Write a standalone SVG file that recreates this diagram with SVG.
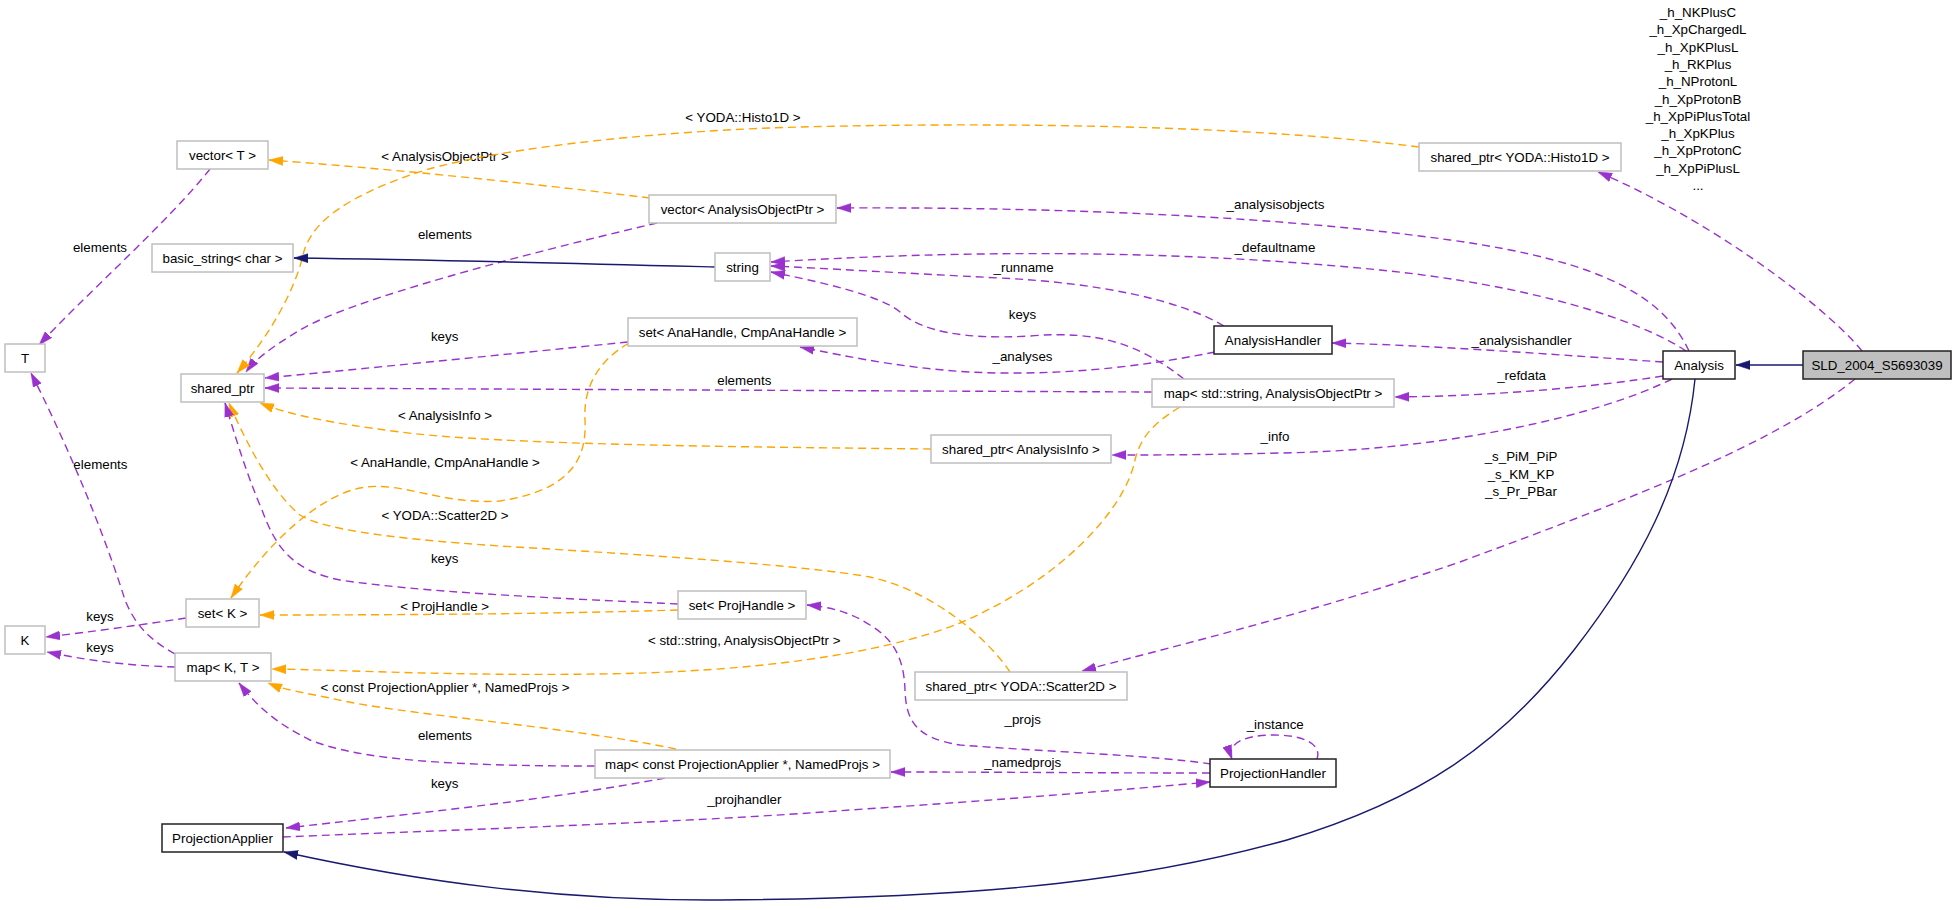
<svg xmlns="http://www.w3.org/2000/svg" width="1957" height="910" viewBox="0 0 1957 910">
<style>
text{font-family:"Liberation Sans",Arial,Helvetica,sans-serif;font-size:13.33px;fill:#000;text-anchor:middle}
.n rect{fill:#fff;stroke:#bfbfbf;stroke-width:1.5}
.n.b rect{stroke:#222}
.n.g rect{fill:#bfbfbf;stroke:#222}
.e{fill:none;stroke-width:1.4}
.p{stroke:#9a32cd;stroke-dasharray:8,5;marker-end:url(#mp)}
.o{stroke:#ffa500;stroke-dasharray:8,5;marker-end:url(#mo)}
.i{stroke:#191970;marker-end:url(#mi)}
</style>
<defs>
<marker id="mp" viewBox="0 0 14 10" refX="14" refY="5" markerWidth="14" markerHeight="10" markerUnits="userSpaceOnUse" orient="auto"><path d="M0,0.5 L14,5 L0,9.5 z" fill="#9a32cd" stroke="#9a32cd" stroke-width="0.5"/></marker>
<marker id="mo" viewBox="0 0 14 10" refX="14" refY="5" markerWidth="14" markerHeight="10" markerUnits="userSpaceOnUse" orient="auto"><path d="M0,0.5 L14,5 L0,9.5 z" fill="#ffa500" stroke="#ffa500" stroke-width="0.5"/></marker>
<marker id="mi" viewBox="0 0 14 10" refX="14" refY="5" markerWidth="14" markerHeight="10" markerUnits="userSpaceOnUse" orient="auto"><path d="M0,0.5 L14,5 L0,9.5 z" fill="#191970" stroke="#191970" stroke-width="0.5"/></marker>
</defs>
<rect width="1957" height="910" fill="#fff"/>
<g id="connectors">
<path class="e i" d="M1803,365 L1736,365"/>
<path class="e p" d="M1862,351 C1820,300 1700,215 1598,172"/>
<text x="1698" y="17">_h_NKPlusC</text>
<text x="1698" y="34.3">_h_XpChargedL</text>
<text x="1698" y="51.6">_h_XpKPlusL</text>
<text x="1698" y="68.9">_h_RKPlus</text>
<text x="1698" y="86.2">_h_NProtonL</text>
<text x="1698" y="103.5">_h_XpProtonB</text>
<text x="1698" y="120.8">_h_XpPiPlusTotal</text>
<text x="1698" y="138.1">_h_XpKPlus</text>
<text x="1698" y="155.4">_h_XpProtonC</text>
<text x="1698" y="172.7">_h_XpPiPlusL</text>
<text x="1698" y="190">...</text>
<path class="e p" d="M1855,379 C1780,440 1650,492 1460,562 C1300,617 1150,652 1082,671"/>
<text x="1521" y="461">_s_PiM_PiP</text>
<text x="1521" y="478.5">_s_KM_KP</text>
<text x="1521" y="496">_s_Pr_PBar</text>
<path class="e i" d="M1695,379 C1685,480 1640,565 1574,650 C1500,745 1420,800 1287,840 C1150,878 1000,898 720,900 C560,901 420,882 284,852"/>
<path class="e p" d="M1663,362 C1560,355 1430,345 1332,343"/>
<text x="1521.6" y="344.5">_analysishandler</text>
<path class="e p" d="M1663,376 C1600,386 1500,396 1395,397"/>
<text x="1521.6" y="379.5">_refdata</text>
<path class="e p" d="M1672,379 C1600,415 1450,450 1280,453 C1200,455 1150,455 1112,455"/>
<text x="1275" y="441">_info</text>
<path class="e p" d="M1686,351 C1640,320 1530,285 1380,270 C1200,252 1000,248 771,262"/>
<text x="1275" y="252">_defaultname</text>
<path class="e p" d="M1689,351 C1665,300 1610,262 1450,240 C1250,212 1000,207 837,208"/>
<text x="1275.5" y="209">_analysisobjects</text>
<path class="e p" d="M1224,326 C1180,300 1100,283 1000,278 C900,273 820,268 771,266"/>
<text x="1023.6" y="272">_runname</text>
<path class="e p" d="M1215,352 C1150,365 1080,374 1000,373 C920,372 850,357 800,347"/>
<text x="1022.5" y="361">_analyses</text>
<path class="e p" d="M1184,379 C1140,345 1100,330 1030,336 C960,340 920,330 900,312 C880,295 820,282 771,272"/>
<text x="1022.5" y="319">keys</text>
<path class="e p" d="M1152,392 C900,391 500,389 265,388"/>
<text x="744.3" y="385">elements</text>
<path class="e o" d="M1180,407 C1150,425 1140,440 1135,460 C1125,510 1060,580 960,623 C880,655 750,672 600,674 C450,676 350,670 272,669"/>
<text x="744.2" y="644.5">&lt; std::string, AnalysisObjectPtr &gt;</text>
<path class="e o" d="M931,449 C750,447 500,445 400,432 C330,423 290,415 260,403"/>
<text x="445" y="419.5">&lt; AnalysisInfo &gt;</text>
<path class="e o" d="M650,198 C520,182 380,168 269,160"/>
<text x="445" y="160.5">&lt; AnalysisObjectPtr &gt;</text>
<path class="e p" d="M657,223 C520,255 350,300 300,330 C270,348 255,360 246,372"/>
<text x="445" y="238.5">elements</text>
<path class="e o" d="M1419,147 C1250,125 1000,122 800,127 C650,131 480,150 410,175 C340,200 310,225 303,255 C295,290 270,335 237,373"/>
<text x="743" y="122">&lt; YODA::Histo1D &gt;</text>
<path class="e i" d="M715,267 C600,264 450,260 294,258"/>
<path class="e p" d="M628,342 C500,355 350,370 265,378"/>
<text x="444.6" y="341">keys</text>
<path class="e o" d="M629,343 C600,360 583,385 585,420 C587,460 570,490 500,501 C440,505 400,480 360,488 C320,496 270,540 231,598"/>
<text x="445" y="467">&lt; AnaHandle, CmpAnaHandle &gt;</text>
<path class="e o" d="M1010,672 C985,635 930,590 870,577 C800,565 650,555 500,546 C380,538 320,528 300,515 C270,490 245,440 229,403"/>
<text x="445" y="520">&lt; YODA::Scatter2D &gt;</text>
<path class="e p" d="M678,604 C550,598 420,592 340,580 C290,570 275,545 262,510 C245,470 235,435 225,403"/>
<text x="444.6" y="563">keys</text>
<path class="e o" d="M678,610 C550,614 400,615 260,615"/>
<text x="444.6" y="611">&lt; ProjHandle &gt;</text>
<path class="e p" d="M210,169 C170,220 80,300 39,345"/>
<text x="100" y="252">elements</text>
<path class="e p" d="M175,654 C150,640 135,625 125,600 C100,520 60,430 31,373"/>
<text x="100.4" y="469">elements</text>
<path class="e p" d="M186,618 C140,625 90,632 46,637"/>
<text x="100" y="621">keys</text>
<path class="e p" d="M175,667 C140,666 100,663 47,652"/>
<text x="100" y="652">keys</text>
<path class="e o" d="M676,749 C560,725 400,715 330,698 C300,692 285,690 268,683"/>
<text x="445" y="692">&lt; const ProjectionApplier *, NamedProjs &gt;</text>
<path class="e p" d="M595,766 C450,766 360,760 310,740 C280,725 260,710 239,683"/>
<text x="445" y="740">elements</text>
<path class="e p" d="M665,778 C550,800 400,815 286,828"/>
<text x="444.6" y="788">keys</text>
<path class="e p" d="M283,837 C450,830 700,822 850,810 C1000,800 1120,790 1210,782"/>
<text x="744.4" y="803.5">_projhandler</text>
<path class="e p" d="M1210,773 C1100,773 1000,772 891,772"/>
<text x="1022.7" y="767">_namedprojs</text>
<path class="e p" d="M1211,764 C1150,755 1050,752 960,745 C915,738 906,720 905,690 C904,660 895,640 870,625 C850,612 830,607 807,605"/>
<text x="1022.7" y="724">_projs</text>
<path class="e p" d="M1317,759 C1322,745 1305,735 1274,735 C1245,735 1226,743 1232,759"/>
<text x="1275.2" y="729">_instance</text>
</g>
<g id="node_sld" class="n g"><rect x="1803" y="351" width="148" height="28"/><text x="1877" y="369.5">SLD_2004_S5693039</text></g>
<g id="node_analysis" class="n b"><rect x="1663" y="351" width="72" height="28"/><text x="1699" y="369.5">Analysis</text></g>
<g id="node_histo1d" class="n"><rect x="1419" y="143" width="202" height="28"/><text x="1520" y="161.5">shared_ptr&lt; YODA::Histo1D &gt;</text></g>
<g id="node_vector_aop" class="n"><rect x="649" y="195" width="187" height="28"/><text x="742.5" y="213.5">vector&lt; AnalysisObjectPtr &gt;</text></g>
<g id="node_string" class="n"><rect x="715" y="253" width="55" height="28"/><text x="742.5" y="271.5">string</text></g>
<g id="node_set_anahandle" class="n"><rect x="628" y="318" width="229" height="28"/><text x="742.5" y="336.5">set&lt; AnaHandle, CmpAnaHandle &gt;</text></g>
<g id="node_set_projhandle" class="n"><rect x="678" y="591" width="128" height="28"/><text x="742" y="609.5">set&lt; ProjHandle &gt;</text></g>
<g id="node_map_pa" class="n"><rect x="595" y="750" width="295" height="28"/><text x="742.5" y="768.5">map&lt; const ProjectionApplier *, NamedProjs &gt;</text></g>
<g id="node_analysishandler" class="n b"><rect x="1214" y="326" width="118" height="28"/><text x="1273" y="344.5">AnalysisHandler</text></g>
<g id="node_map_string" class="n"><rect x="1152" y="379" width="242" height="28"/><text x="1273" y="397.5">map&lt; std::string, AnalysisObjectPtr &gt;</text></g>
<g id="node_projectionhandler" class="n b"><rect x="1210" y="759" width="126" height="28"/><text x="1273" y="777.5">ProjectionHandler</text></g>
<g id="node_sp_info" class="n"><rect x="931" y="435" width="180" height="28"/><text x="1021" y="453.5">shared_ptr&lt; AnalysisInfo &gt;</text></g>
<g id="node_sp_scatter" class="n"><rect x="915" y="672" width="212" height="28"/><text x="1021" y="690.5">shared_ptr&lt; YODA::Scatter2D &gt;</text></g>
<g id="node_vector_t" class="n"><rect x="177" y="141" width="91" height="28"/><text x="222.5" y="159.5">vector&lt; T &gt;</text></g>
<g id="node_basic_string" class="n"><rect x="152" y="244" width="141" height="28"/><text x="222.5" y="262.5">basic_string&lt; char &gt;</text></g>
<g id="node_shared_ptr" class="n"><rect x="181" y="374" width="83" height="28"/><text x="222.5" y="392.5">shared_ptr</text></g>
<g id="node_set_k" class="n"><rect x="186" y="599" width="73" height="28"/><text x="222.5" y="617.5">set&lt; K &gt;</text></g>
<g id="node_map_kt" class="n"><rect x="175" y="653" width="96" height="28"/><text x="223" y="671.5">map&lt; K, T &gt;</text></g>
<g id="node_projectionapplier" class="n b"><rect x="162" y="824" width="121" height="28"/><text x="222.5" y="842.5">ProjectionApplier</text></g>
<g id="node_t" class="n"><rect x="5" y="344" width="40" height="28"/><text x="25" y="362.5">T</text></g>
<g id="node_k" class="n"><rect x="5" y="626" width="40" height="28"/><text x="25" y="644.5">K</text></g>
</svg>
